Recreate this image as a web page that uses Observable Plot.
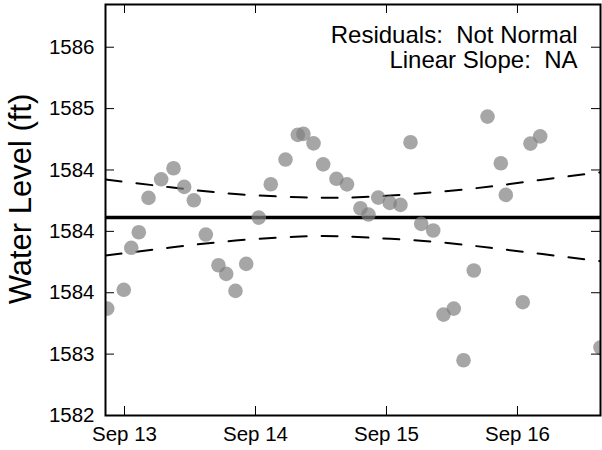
<!DOCTYPE html>
<html><head><meta charset="utf-8">
<script src="https://cdn.jsdelivr.net/npm/d3@7"></script>
<script src="https://cdn.jsdelivr.net/npm/@observablehq/plot@0.6"></script>
<style>
body{margin:0;background:#fff;}
svg text{white-space:pre;}
</style></head><body><div id="chart"></div>
<script>
// Observation times (UTC) and water levels (ft)
const times = ["2015-09-12T20:50","2015-09-12T23:52","2015-09-13T01:14","2015-09-13T02:37","2015-09-13T04:24","2015-09-13T06:43","2015-09-13T08:59","2015-09-13T10:56","2015-09-13T12:42","2015-09-13T14:54","2015-09-13T17:13","2015-09-13T18:38","2015-09-13T20:20","2015-09-13T22:18","2015-09-14T00:36","2015-09-14T02:48","2015-09-14T05:30","2015-09-14T07:45","2015-09-14T08:47","2015-09-14T10:38","2015-09-14T12:24","2015-09-14T14:50","2015-09-14T16:46","2015-09-14T19:14","2015-09-14T20:42","2015-09-14T22:29","2015-09-15T00:36","2015-09-15T02:34","2015-09-15T04:24","2015-09-15T06:22","2015-09-15T08:34","2015-09-15T10:27","2015-09-15T12:20","2015-09-15T14:07","2015-09-15T16:00","2015-09-15T18:31","2015-09-15T20:57","2015-09-15T21:52","2015-09-16T00:58","2015-09-16T02:23","2015-09-16T04:10","2015-09-16T15:13"];
const levels = [1583.371,1583.524,1583.866,1583.993,1584.273,1584.424,1584.514,1584.362,1584.253,1583.974,1583.724,1583.654,1583.515,1583.735,1584.112,1584.384,1584.585,1584.786,1584.794,1584.717,1584.546,1584.428,1584.383,1584.188,1584.137,1584.275,1584.232,1584.216,1584.726,1584.061,1584.007,1583.322,1583.371,1582.950,1583.681,1584.935,1584.555,1584.297,1583.423,1584.715,1584.774,1583.054];

// Fitted level and confidence band
const fitLevel = 1584.112;
const bandTimes = ["2015-09-12T20:31","2015-09-13T08:26","2015-09-13T20:20","2015-09-14T08:15","2015-09-14T16:29","2015-09-15T00:44","2015-09-15T09:53","2015-09-15T19:03","2015-09-16T04:13","2015-09-16T15:13"];
const upperBand = [1584.422,1584.359,1584.304,1584.278,1584.275,1584.292,1584.324,1584.365,1584.419,1584.481];
const lowerBand = [1583.803,1583.868,1583.925,1583.958,1583.958,1583.939,1583.911,1583.866,1583.817,1583.757];

// Axes
const xDomain = ["2015-09-12T20:31","2015-09-16T15:13"];
const yDomain = [1582.5, 1585.848];
const xTickDates = ["2015-09-13T00:00","2015-09-14T00:00","2015-09-15T00:00","2015-09-16T00:00"];
const xTickLabels = ["Sep 13","Sep 14","Sep 15","Sep 16"];
const yTicks = [1582.5,1583.0,1583.5,1584.0,1584.5,1585.0,1585.5];
const yTickLabels = ["1582","1583","1584","1584","1584","1585","1586"];
const yLabel = "Water Level (ft)";
const annotation = "Residuals:  Not Normal\nLinear Slope:  NA";

const utc = s => new Date(s + ":00Z");
const obs = times.map((t, i) => ({t: utc(t), v: levels[i]}));
const upper = bandTimes.map((t, i) => ({t: utc(t), v: upperBand[i]}));
const lower = bandTimes.map((t, i) => ({t: utc(t), v: lowerBand[i]}));
const xTicks = xTickDates.map(utc);
const xLab = new Map(xTicks.map((d, i) => [d.getTime(), xTickLabels[i]]));
const yLab = new Map(yTicks.map((d, i) => [d, yTickLabels[i]]));

const W = 602, H = 450, mL = 105, mR = 2, mT = 4, mB = 35;
const pw = W - mL - mR, ph = H - mT - mB;
const font = "'Liberation Sans', Arial, Helvetica, sans-serif";

const chart = Plot.plot({
  width: W, height: H,
  marginLeft: mL, marginRight: mR, marginTop: mT, marginBottom: mB,
  style: {fontFamily: font, background: "#fff", color: "black", overflow: "visible"},
  x: {type: "utc", domain: xDomain.map(utc)},
  y: {domain: yDomain},
  marks: [
    Plot.line(upper, {x: "t", y: "v", stroke: "black", strokeWidth: 2, strokeDasharray: "16,15", curve: "natural", clip: true}),
    Plot.line(lower, {x: "t", y: "v", stroke: "black", strokeWidth: 2, strokeDasharray: "16,15", curve: "natural", clip: true}),
    Plot.ruleY([fitLevel], {stroke: "black", strokeWidth: 3.5}),
    Plot.dot(obs, {x: "t", y: "v", r: 7.3, fill: "gray", fillOpacity: 0.7, stroke: null, clip: true}),
    Plot.tickY(yTicks, {y: d => d, insetRight: pw - 9, stroke: "black"}),
    Plot.tickY(yTicks, {y: d => d, insetLeft: pw - 9, stroke: "black"}),
    Plot.tickX(xTicks, {x: d => d, insetTop: ph - 9, stroke: "black"}),
    Plot.tickX(xTicks, {x: d => d, insetBottom: ph - 9, stroke: "black"}),
    Plot.frame({stroke: "black", strokeWidth: 2}),
    Plot.axisY(yTicks, {tickSize: 0, tickPadding: 11, tickFormat: d => yLab.get(d), fontSize: 20.5, label: null}),
    Plot.axisX(xTicks, {tickSize: 0, tickPadding: 11, tickFormat: d => xLab.get(d.getTime()), fontSize: 20.5, label: null}),
    Plot.text([yLabel], {text: d => d, frameAnchor: "left", textAnchor: "middle", lineAnchor: "middle", rotate: -90, dx: -84, dy: -11, fontSize: 31}),
    Plot.text([annotation], {text: d => d, frameAnchor: "top-right", textAnchor: "end", lineAnchor: "top", dx: -23, dy: 20, fontSize: 24, lineHeight: 1.07})
  ]
});
document.getElementById("chart").appendChild(chart);
</script></body></html>
